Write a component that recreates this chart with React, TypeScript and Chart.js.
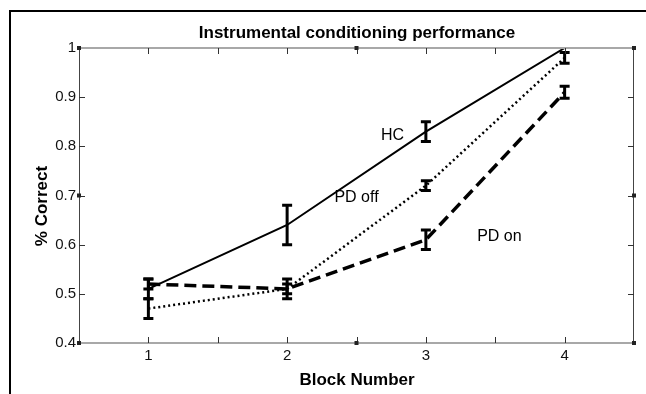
import React, { useEffect, useRef } from "react";
import { Chart, registerables } from "chart.js";

Chart.register(...registerables);

// Block numbers and mean proportion correct per group
const blocks = [1, 2, 3, 4];
const hcMean = [0.51, 0.64, 0.83, 1.0];
const hcErr = [0.02, 0.04, 0.02, 0.0];
const pdOffMean = [0.47, 0.51, 0.72, 0.98];
const pdOffErr = [0.02, 0.01, 0.01, 0.011];
const pdOnMean = [0.52, 0.51, 0.61, 0.91];
const pdOnErr = [0.01, 0.02, 0.02, 0.012];

// Group names written next to their curves, in data coordinates
const groupLabels = [
  { text: "HC", x: 2.76, y: 0.821 },
  { text: "PD off", x: 2.5, y: 0.695 },
  { text: "PD on", x: 3.53, y: 0.617 },
];

const FONT = "'Liberation Sans', Arial, Helvetica, sans-serif";

const decorPlugin = {
  id: "decor",
  afterDatasetsDraw(chart: any) {
    const { ctx, chartArea: a, scales } = chart;
    const xs = scales.x;
    const ys = scales.y;
    ctx.save();

    // error bars
    const groups = [
      { m: hcMean, e: hcErr },
      { m: pdOffMean, e: pdOffErr },
      { m: pdOnMean, e: pdOnErr },
    ];
    ctx.save();
    ctx.beginPath();
    ctx.rect(a.left, a.top, a.right - a.left, a.bottom - a.top);
    ctx.clip();
    ctx.strokeStyle = "#000";
    ctx.lineWidth = 3;
    groups.forEach((g) => {
      blocks.forEach((b, i) => {
        if (!g.e[i]) return;
        const px = xs.getPixelForValue(b);
        const y1 = ys.getPixelForValue(g.m[i] + g.e[i]);
        const y2 = ys.getPixelForValue(g.m[i] - g.e[i]);
        ctx.beginPath();
        ctx.moveTo(px, y1);
        ctx.lineTo(px, y2);
        ctx.moveTo(px - 5, y1);
        ctx.lineTo(px + 5, y1);
        ctx.moveTo(px - 5, y2);
        ctx.lineTo(px + 5, y2);
        ctx.stroke();
      });
    });
    ctx.restore();

    // axes box
    ctx.lineWidth = 2;
    ctx.strokeStyle = "#a8a8a8";
    ctx.beginPath();
    ctx.moveTo(a.left, a.top);
    ctx.lineTo(a.right, a.top);
    ctx.moveTo(a.left, a.bottom);
    ctx.lineTo(a.right, a.bottom);
    ctx.stroke();
    ctx.lineWidth = 1;
    ctx.strokeStyle = "#444";
    ctx.beginPath();
    ctx.moveTo(a.left + 0.5, a.top);
    ctx.lineTo(a.left + 0.5, a.bottom);
    ctx.moveTo(a.right - 0.5, a.top);
    ctx.lineTo(a.right - 0.5, a.bottom);
    ctx.stroke();

    // inward tick marks
    ctx.strokeStyle = "#333";
    ctx.lineWidth = 1;
    ctx.beginPath();
    for (let v = 1; v <= 4.001; v += 0.5) {
      const px = Math.round(xs.getPixelForValue(v)) + 0.5;
      ctx.moveTo(px, a.bottom);
      ctx.lineTo(px, a.bottom - 6);
      ctx.moveTo(px, a.top);
      ctx.lineTo(px, a.top + 6);
    }
    for (let v = 0.5; v <= 0.95; v += 0.1) {
      const py = Math.round(ys.getPixelForValue(v)) + 0.5;
      ctx.moveTo(a.left, py);
      ctx.lineTo(a.left + 6, py);
      ctx.moveTo(a.right, py);
      ctx.lineTo(a.right - 6, py);
    }
    ctx.stroke();

    // small square markers on the box
    ctx.fillStyle = "#222";
    const sq = (x: number, y: number) => ctx.fillRect(x - 2, y - 2, 4, 4);
    sq(a.left, a.top);
    sq(a.right, a.top);
    sq(a.left, a.bottom);
    sq(a.right, a.bottom);
    sq(xs.getPixelForValue(2.5), a.top);
    sq(xs.getPixelForValue(2.5), a.bottom);
    sq(a.left, ys.getPixelForValue(0.7));
    sq(a.right, ys.getPixelForValue(0.7));

    // group labels
    ctx.fillStyle = "#000";
    ctx.font = `16px ${FONT}`;
    ctx.textAlign = "center";
    ctx.textBaseline = "middle";
    groupLabels.forEach((l) => {
      ctx.fillText(l.text, xs.getPixelForValue(l.x), ys.getPixelForValue(l.y));
    });

    // titles
    ctx.font = `bold 17px ${FONT}`;
    ctx.fillText("Instrumental conditioning performance", 357, 33);
    ctx.fillText("Block Number", 357, 380);
    ctx.save();
    ctx.translate(42, 206);
    ctx.rotate(-Math.PI / 2);
    ctx.fillText("% Correct", 0, 0);
    ctx.restore();

    // page frame
    ctx.fillStyle = "#000";
    ctx.fillRect(9, 10, 2, 394 - 10);
    ctx.fillRect(9, 10, 646 - 9, 2);

    ctx.restore();
  },
};

export default function App() {
  const ref = useRef<HTMLCanvasElement | null>(null);

  useEffect(() => {
    if (!ref.current) return;
    const pts = (m: number[]) => blocks.map((b, i) => ({ x: b, y: m[i] }));
    const chart = new Chart(ref.current, {
      type: "line",
      data: {
        datasets: [
          {
            label: "HC",
            data: pts(hcMean),
            borderColor: "#000",
            borderWidth: 2,
            pointRadius: 0,
          },
          {
            label: "PD off",
            data: pts(pdOffMean),
            borderColor: "#000",
            borderWidth: 2.5,
            borderDash: [2, 3],
            pointRadius: 0,
          },
          {
            label: "PD on",
            data: pts(pdOnMean),
            borderColor: "#000",
            borderWidth: 3.5,
            borderDash: [12, 6],
            pointRadius: 0,
          },
        ],
      },
      options: {
        animation: false,
        responsive: false,
        events: [],
        layout: { padding: { left: 0, top: 48, right: 12, bottom: 0 } },
        plugins: { legend: { display: false }, tooltip: { enabled: false } },
        scales: {
          x: {
            type: "linear",
            min: 0.5,
            max: 4.5,
            grid: { display: false, drawTicks: false },
            border: { display: false },
            afterFit: (s: any) => {
              s.height = 51;
            },
            afterBuildTicks: (s: any) => {
              s.ticks = blocks.map((b) => ({ value: b }));
            },
            ticks: {
              color: "#111",
              font: { family: FONT, size: 15 },
              padding: 4,
              maxRotation: 0,
              callback: (v: any) => String(v),
            },
          },
          y: {
            min: 0.4,
            max: 1,
            grid: { display: false, drawTicks: false },
            border: { display: false },
            afterFit: (s: any) => {
              s.width = 79;
            },
            ticks: {
              stepSize: 0.1,
              color: "#111",
              font: { family: FONT, size: 15 },
              padding: 3,
              callback: (v: any) => {
                const r = Math.round(Number(v) * 10) / 10;
                return r === 1 ? "1" : r.toFixed(1);
              },
            },
          },
        },
      },
      plugins: [decorPlugin],
    });
    return () => chart.destroy();
  }, []);

  return (
    <div style={{ position: "fixed", left: 0, top: 0, width: 646, height: 394, background: "#fff" }}>
      <canvas ref={ref} width={646} height={394} />
    </div>
  );
}
